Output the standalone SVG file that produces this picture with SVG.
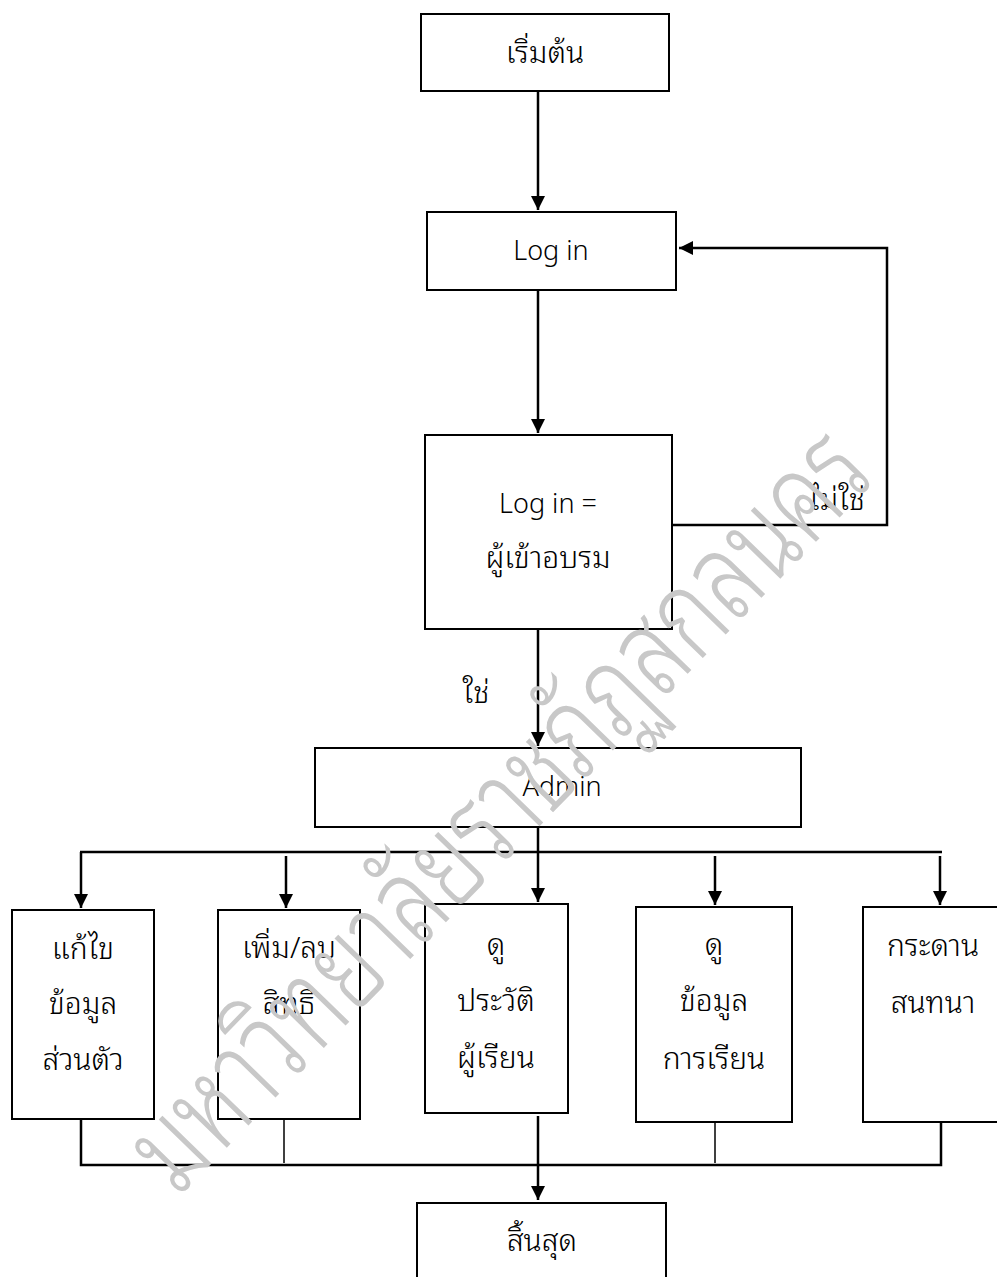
<svg xmlns="http://www.w3.org/2000/svg" width="997" height="1277" viewBox="0 0 997 1277">
<defs>
<style>
.box{fill:#fff;stroke:#000;stroke-width:2}
.t{font-family:"Noto Sans Thai Looped","Noto Sans Thai","Noto Sans","Liberation Sans",sans-serif;font-size:30px;font-weight:300;fill:#000;text-anchor:middle}
.l{font-size:27px}
.c{fill:none;stroke:#000;stroke-width:2.5}
.thin{fill:none;stroke:#000;stroke-width:1.5}
.wm{font-family:"Noto Sans Thai Looped","Noto Sans Thai","Noto Sans",sans-serif;font-size:124px;font-weight:300;fill:#c8c8c8;text-anchor:middle}
</style>
<marker id="ah" markerUnits="userSpaceOnUse" markerWidth="14" markerHeight="14" viewBox="0 0 14 14" refX="14" refY="7" orient="auto">
<path d="M0,0 L14,7 L0,14 Z" fill="#000"/>
</marker>
</defs>
<g id="connectors">
<path class="c" d="M538,91 V210" marker-end="url(#ah)"/>
<path class="c" d="M538,290 V433" marker-end="url(#ah)"/>
<path class="c" d="M673,525 H887 V248 H679" marker-end="url(#ah)"/>
<path class="c" d="M538,629 V746" marker-end="url(#ah)"/>
<path class="c" d="M538,827 V852"/>
<path class="c" d="M80,852 H942"/>
<path class="c" d="M81,852 V908" marker-end="url(#ah)"/>
<path class="c" d="M286,856 V908" marker-end="url(#ah)"/>
<path class="c" d="M538,852 V902" marker-end="url(#ah)"/>
<path class="c" d="M715,856 V905" marker-end="url(#ah)"/>
<path class="c" d="M940,856 V905" marker-end="url(#ah)"/>
<path class="c" d="M81,1120 V1165 H941 V1122"/>
<path class="thin" d="M284,1119 V1163"/>
<path class="thin" d="M715,1120 V1163"/>
<path class="c" d="M538,1116 V1200" marker-end="url(#ah)"/>
<text class="t" x="837" y="510">ไม่ใช่</text>
<text class="t" x="476" y="703">ใช่</text>
</g>
<g id="start"><rect class="box" x="421" y="14" width="248" height="77"/><text class="t" x="545" y="63">เริ่มต้น</text></g>
<g id="login"><rect class="box" x="427" y="212" width="249" height="78"/><text class="t l" x="551" y="260">Log in</text></g>
<g id="decision"><rect class="box" x="425" y="435" width="247" height="194"/><text class="t l" x="548" y="513">Log in =</text><text class="t" x="548" y="568">ผู้เข้าอบรม</text></g>
<g id="admin"><rect class="box" x="315" y="748" width="486" height="79"/><text class="t l" x="562" y="796">Admin</text></g>
<g id="edit"><rect class="box" x="12" y="910" width="142" height="209"/><text class="t" x="83" y="959">แก้ไข</text><text class="t" x="83" y="1014">ข้อมูล</text><text class="t" x="83" y="1070">ส่วนตัว</text></g>
<g id="perm"><rect class="box" x="218" y="910" width="142" height="209"/><text class="t" x="289" y="958">เพิ่ม/ลบ</text><text class="t" x="289" y="1014">สิทธิ</text></g>
<g id="history"><rect class="box" x="425" y="904" width="143" height="209"/><text class="t" x="496" y="955">ดู</text><text class="t" x="496" y="1011">ประวัติ</text><text class="t" x="496" y="1068">ผู้เรียน</text></g>
<g id="study"><rect class="box" x="636" y="907" width="156" height="215"/><text class="t" x="714" y="955">ดู</text><text class="t" x="714" y="1011">ข้อมูล</text><text class="t" x="714" y="1069">การเรียน</text></g>
<g id="board"><rect class="box" x="863" y="907" width="142" height="215"/><text class="t" x="933" y="956">กระดาน</text><text class="t" x="933" y="1013">สนทนา</text></g>
<g id="end"><path class="box" d="M417,1280 V1203 H666 V1280"/><text class="t" x="542" y="1251">สิ้นสุด</text></g>
<g id="watermark"><text class="wm" transform="translate(528,838) rotate(-45.8) scale(0.74,1)">มหาวิทยาลัยราชภัฏสกลนคร</text></g>
</svg>
